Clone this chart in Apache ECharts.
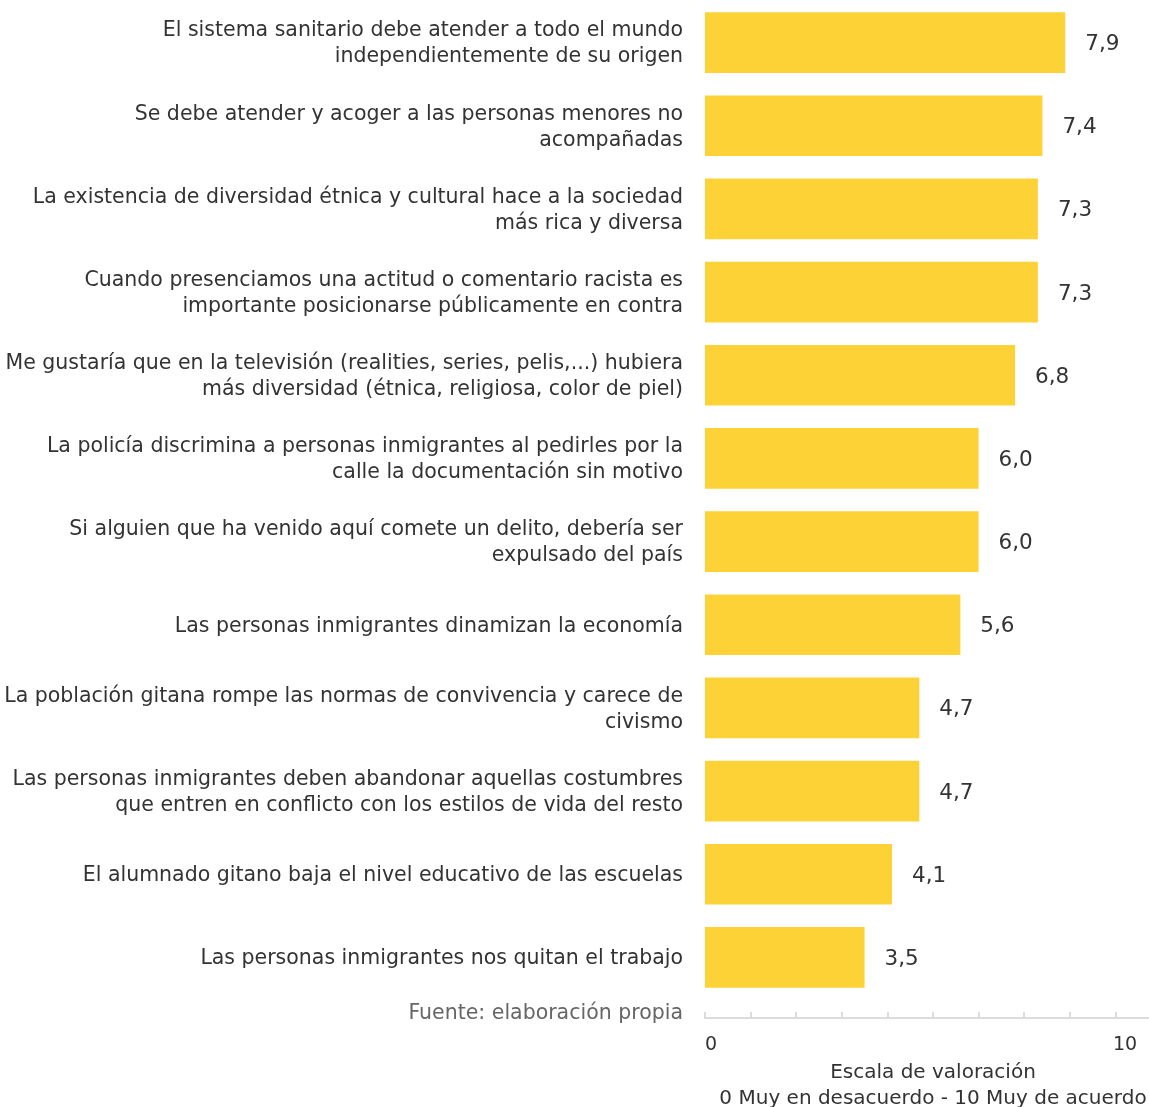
<!DOCTYPE html>
<html><head><meta charset="utf-8">
<script src="https://cdn.jsdelivr.net/npm/echarts@6/dist/echarts.min.js"></script>
<style>html,body{margin:0;padding:0;background:#fff}#c{width:1149px;height:1107px}</style>
</head><body><div id="c"></div>
<script>
const categories = [
  "El sistema sanitario debe atender a todo el mundo\nindependientemente de su origen",
  "Se debe atender y acoger a las personas menores no\nacompañadas",
  "La existencia de diversidad étnica y cultural hace a la sociedad\nmás rica y diversa",
  "Cuando presenciamos una actitud o comentario racista es\nimportante posicionarse públicamente en contra",
  "Me gustaría que en la televisión (realities, series, pelis,...) hubiera\nmás diversidad (étnica, religiosa, color de piel)",
  "La policía discrimina a personas inmigrantes al pedirles por la\ncalle la documentación sin motivo",
  "Si alguien que ha venido aquí comete un delito, debería ser\nexpulsado del país",
  "Las personas inmigrantes dinamizan la economía",
  "La población gitana rompe las normas de convivencia y carece de\ncivismo",
  "Las personas inmigrantes deben abandonar aquellas costumbres\nque entren en conflicto con los estilos de vida del resto",
  "El alumnado gitano baja el nivel educativo de las escuelas",
  "Las personas inmigrantes nos quitan el trabajo"
];
const values = [7.9, 7.4, 7.3, 7.3, 6.8, 6.0, 6.0, 5.6, 4.7, 4.7, 4.1, 3.5];
const axisTickLabels = ["0", "10"];
const axisName = "Escala de valoración\n0 Muy en desacuerdo - 10 Muy de acuerdo";
const sourceText = "Fuente: elaboración propia";

const FONT = "DejaVu Sans";
const chart = echarts.init(document.getElementById('c'), null, {renderer: 'canvas'});
chart.setOption({
  animation: false,
  textStyle: {fontFamily: FONT},
  title: {
    text: sourceText, right: 466, top: 1003, padding: 0,
    textStyle: {fontFamily: FONT, fontSize: 20.5, fontWeight: 'normal', color: '#666'}
  },
  grid: {left: 705, right: -12, top: 1, bottom: 108, outerBoundsMode: 'none', containLabel: false},
  xAxis: {
    type: 'value', min: 0, max: 10, interval: 1, offset: 19,
    axisLine: {show: true, lineStyle: {color: '#dcdcdc', width: 2}},
    axisTick: {show: true, inside: true, length: 6, lineStyle: {color: '#dcdcdc', width: 2}},
    splitLine: {show: false},
    axisLabel: {
      margin: 18, fontSize: 19, color: '#333', fontFamily: FONT,
      formatter: function (v) {
        if (v === 0) return '{l|' + axisTickLabels[0] + '}';
        if (v === 10) return '{r|' + axisTickLabels[1] + '}';
        return '';
      },
      rich: {
        l: {fontSize: 19, color: '#333', fontFamily: FONT, padding: [0, 0, 0, 12]},
        r: {fontSize: 19, color: '#333', fontFamily: FONT, padding: [0, 72, 0, 0]}
      }
    },
    name: axisName, nameLocation: 'middle', nameGap: 42,
    nameTextStyle: {fontSize: 20, color: '#333', fontFamily: FONT, lineHeight: 26}
  },
  yAxis: {
    type: 'category', data: categories, inverse: true,
    axisLine: {show: false}, axisTick: {show: false},
    axisLabel: {
      margin: 22, color: '#333', fontFamily: FONT, align: 'right',
      formatter: v => v.split('\n').map(s => '{t|' + s + '}').join('\n'),
      rich: {t: {fontSize: 20.5, lineHeight: 26, padding: [3, 0, 0, 0], color: '#333', fontFamily: FONT, align: 'right'}}
    }
  },
  series: [{
    type: 'bar', data: values, barCategoryGap: '27%',
    itemStyle: {color: '#FDD236'},
    label: {
      show: true, position: 'right', distance: 20, fontSize: 21.5, offset: [0, 2], color: '#333', fontFamily: FONT,
      formatter: p => p.value.toFixed(1).replace('.', ',')
    }
  }]
});
</script></body></html>
